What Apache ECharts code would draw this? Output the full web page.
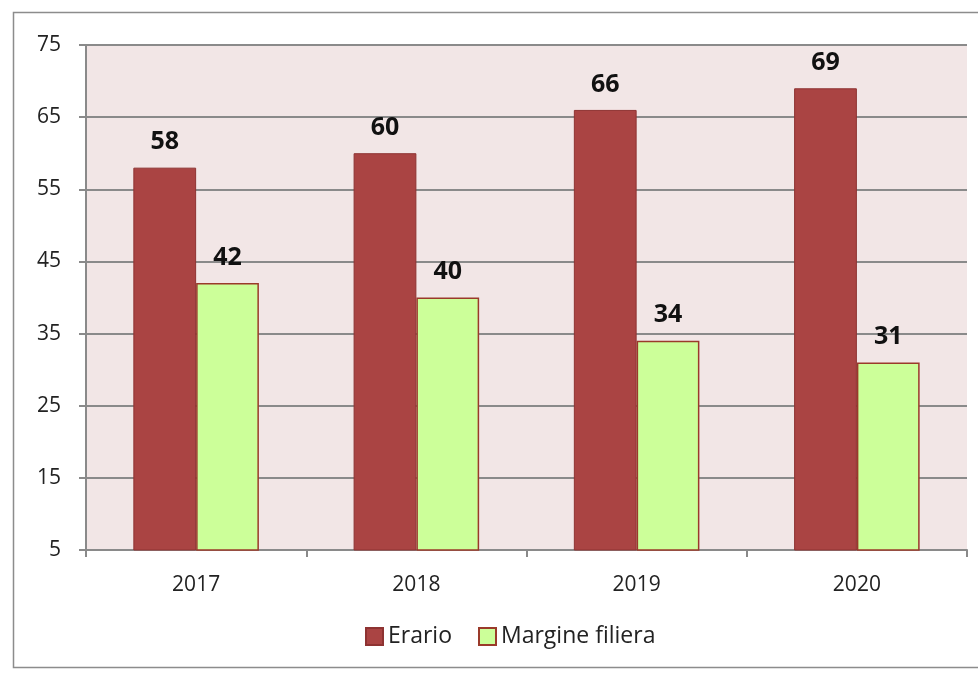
<!DOCTYPE html>
<html>
<head>
<meta charset="utf-8">
<style>
  html, body { margin: 0; padding: 0; background: #ffffff; }
  #chart { width: 978px; height: 673px; }
</style>
<script src="https://cdn.jsdelivr.net/npm/echarts@6/dist/echarts.min.js"></script>
</head>
<body>
<div id="chart"></div>
<script>
// Years shown on the category axis
const years = ['2017', '2018', '2019', '2020'];
// Share going to the treasury
const erario = [58, 60, 66, 69];
// Share left to the supply chain
const margineFiliera = [42, 40, 34, 31];
// Value-axis range and step
const yMin = 5;
const yMax = 75;
const yStep = 10;

const FONT = '"Open Sans", "DejaVu Sans", sans-serif';

const chart = echarts.init(document.getElementById('chart'), null, { renderer: 'canvas' });

const labelStyle = {
  show: true,
  position: 'top',
  distance: 13,
  fontFamily: FONT,
  fontSize: 25,
  fontWeight: 'bold',
  color: '#111111',
  formatter: p => Math.round(p.value)
};

chart.setOption({
  animation: false,
  backgroundColor: '#ffffff',
  graphic: [{
    type: 'rect',
    shape: { x: 13.5, y: 12.5, width: 1000, height: 655 },
    style: { fill: 'none', stroke: '#8c8c8c', lineWidth: 1.5 },
    silent: true
  }],
  grid: {
    left: 86, right: 11, top: 45, bottom: 123,
    show: true,
    backgroundColor: '#f2e6e6',
    borderWidth: 0
  },
  legend: {
    bottom: 20,
    left: 360,
    itemWidth: 17,
    itemHeight: 17,
    itemGap: 26,
    icon: 'rect',
    textStyle: { fontFamily: FONT, fontSize: 23, color: '#222222', padding: [0, 0, 0, 0] },
    data: ['Erario', 'Margine filiera']
  },
  xAxis: {
    type: 'category',
    data: years,
    axisLine: { show: true, lineStyle: { color: '#8a8a8a', width: 2 } },
    axisTick: { show: true, length: 7, lineStyle: { color: '#8a8a8a', width: 2 } },
    axisLabel: { fontFamily: FONT, fontSize: 21, color: '#222222', margin: 25 },
    splitLine: { show: false }
  },
  yAxis: {
    type: 'value',
    min: yMin,
    max: yMax,
    interval: yStep,
    axisLine: { show: true, lineStyle: { color: '#8a8a8a', width: 2 } },
    axisTick: { show: true, length: 7, lineStyle: { color: '#8a8a8a', width: 2 } },
    axisLabel: { fontFamily: FONT, fontSize: 21, color: '#222222', margin: 25 },
    splitLine: { show: true, lineStyle: { color: '#8a8a8a', width: 2 } }
  },
  series: [
    {
      name: 'Erario',
      type: 'bar',
      data: erario,
      barGap: '0%',
      barCategoryGap: '43%',
      itemStyle: { color: '#aa4443', borderColor: '#8e3332', borderWidth: 1 },
      label: labelStyle
    },
    {
      name: 'Margine filiera',
      type: 'bar',
      data: margineFiliera,
      barGap: '0%',
      barCategoryGap: '43%',
      itemStyle: { color: '#ccff99', borderColor: '#9a3a2a', borderWidth: 1.5 },
      label: labelStyle
    }
  ]
});
</script>
</body>
</html>
